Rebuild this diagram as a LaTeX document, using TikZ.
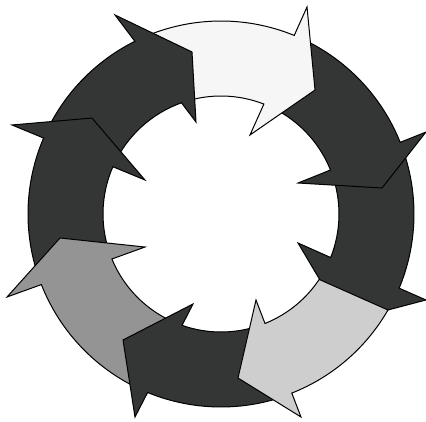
\documentclass[tikz,border=0pt]{standalone}
\usepackage{tikz}

\definecolor{darkink}{RGB}{52,54,53}
\definecolor{midgray}{RGB}{148,148,148}
\definecolor{palegray}{RGB}{206,206,206}
\definecolor{paper}{RGB}{246,246,246}

\begin{document}
\begin{tikzpicture}[
    darkarrow/.style={fill=darkink, draw=black, line width=1pt},
    grayarrow/.style={fill=midgray, draw=black, line width=1pt},
    palearrow/.style={fill=palegray, draw=black, line width=1pt},
    whitearrow/.style={fill=paper, draw=black, line width=1pt}
]
    \useasboundingbox (-221pt,-207pt) rectangle (205pt,214pt);

    % Lower right dark arrow (its head sits under the pale arrow's tail)
    \draw[darkarrow] (20.8:193pt) arc[start angle=20.8, end angle=-22.6, radius=193pt]
        -- (337.24:222.3pt) -- (319.0:163.7pt) -- (339.37:82.3pt)
        -- (-21.65:118pt) arc[start angle=-21.65, end angle=20.9, radius=118pt] -- cycle;

    % Upper right dark arrow
    \draw[darkarrow] (66.7:193pt) arc[start angle=66.7, end angle=21.8, radius=193pt]
        -- (21.80:220.8pt) -- (9.17:163.1pt) -- (21.93:83.0pt)
        -- (21.9:118pt) arc[start angle=21.9, end angle=67.7, radius=118pt] -- cycle;

    % Top white arrow
    \draw[whitearrow] (115.5:193pt) arc[start angle=115.5, end angle=67.7, radius=193pt]
        -- (67.44:224.2pt) -- (52.83:155.6pt) -- (69.84:84.2pt)
        -- (68.7:118pt) arc[start angle=68.7, end angle=108.6, radius=118pt] -- cycle;

    % Top left dark arrow
    \draw[darkarrow] (155.8:193pt) arc[start angle=155.8, end angle=116.5, radius=193pt]
        -- (118.04:225.5pt) -- (100.15:164.6pt) -- (105.2:95.3pt)
        -- (109.56:118pt) arc[start angle=109.56, end angle=155.4, radius=118pt] -- cycle;

    % Left dark arrow
    \draw[darkarrow] (200.5:193pt) arc[start angle=200.5, end angle=156.82, radius=193pt]
        -- (156.93:227.2pt) -- (143.35:160.8pt) -- (155.9:83.3pt)
        -- (156.38:118pt) arc[start angle=156.38, end angle=201.4, radius=118pt] -- cycle;

    % Lower left gray arrow
    \draw[grayarrow] (246.6:193pt) arc[start angle=246.6, end angle=201.45, radius=193pt]
        -- (201.2:229.5pt) -- (188.48:162.8pt) -- (203.47:82.9pt)
        -- (202.41:118pt) arc[start angle=202.41, end angle=249.7, radius=118pt] -- cycle;

    % Bottom dark arrow
    \draw[darkarrow] (290.6:193pt) arc[start angle=290.6, end angle=247.65, radius=193pt]
        -- (247.04:220.5pt) -- (232.13:159.6pt) -- (252.72:94.25pt)
        -- (250.72:118pt) arc[start angle=250.72, end angle=290.9, radius=118pt] -- cycle;

    % Lower right pale arrow (drawn last, tail on top)
    \draw[palearrow] (330.1:192.6pt) arc[start angle=330.1, end angle=291.57, radius=192.6pt]
        -- (291.51:218.2pt) -- (275.92:164.9pt) -- (292.15:92.85pt)
        -- (291.9:118pt) arc[start angle=291.9, end angle=326.3, radius=118pt] -- cycle;
\end{tikzpicture}
\end{document}
